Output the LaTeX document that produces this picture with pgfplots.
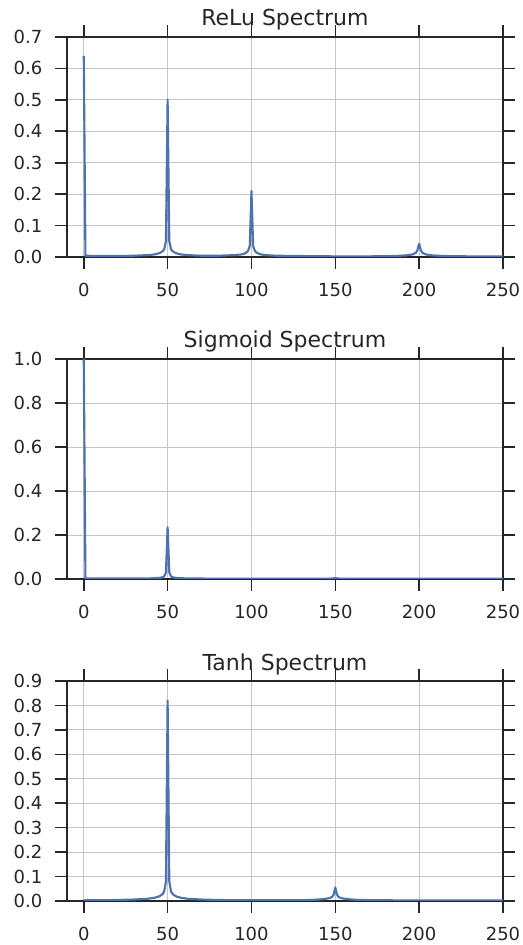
\documentclass[border=0pt]{standalone}
\usepackage{fontspec}
\setmainfont{DejaVu Sans}
\usepackage{pgfplots}
\pgfplotsset{compat=1.18}
\definecolor{sbblue}{HTML}{4C72B0}
\definecolor{txt}{HTML}{262626}
\pgfplotsset{
  spec/.style={
    scale only axis, width=327pt, height=165pt,
    xmin=-10, xmax=250, ymin=0,
    xtick={0,50,...,250},
    xtick pos=both, ytick pos=both,
    tick align=outside, major tick length=9pt,
    grid=major, grid style={gray!45, line width=0.6pt},
    axis line style={txt, line width=1.1pt},
    tick style={txt, line width=1.2pt},
    ticklabel style={font=\fontsize{13.5}{16}\selectfont, text=txt},
    /pgf/number format/assume math mode=true,
    yticklabel style={/pgf/number format/fixed, /pgf/number format/fixed zerofill,
      /pgf/number format/precision=1, xshift=-6pt},
    xticklabel style={yshift=-7pt},
    title style={font=\fontsize{16.5}{19}\selectfont, text=txt, anchor=base, yshift=2.25pt},
  },
  sline/.style={color=sbblue, line width=1.6pt, line join=round, no marks},
}
\begin{document}
\begin{tikzpicture}
\path[use as bounding box] (0,0) rectangle (391.5pt,708.75pt);

% ReLu
\begin{axis}[spec, at={(50.25pt,516pt)}, anchor=south west,
  ymax=0.7, ytick={0,0.1,...,0.7}, title={ReLu Spectrum}]
\addplot[sline] coordinates {
 (0,0.64) (1,0.004) (10,0.003) (20,0.003) (30,0.004) (38,0.006) (42,0.008)
 (45,0.012) (47,0.018) (48,0.025) (49,0.05) (50,0.50) (51,0.05) (52,0.025)
 (53,0.018) (55,0.012) (58,0.008) (62,0.006) (70,0.004) (80,0.004) (90,0.006)
 (94,0.008) (96,0.011) (97,0.014) (98,0.02) (99,0.035) (100,0.21) (101,0.035)
 (102,0.02) (103,0.014) (105,0.009) (108,0.006) (115,0.004) (130,0.003)
 (150,0.002) (170,0.002) (185,0.003) (192,0.005) (196,0.008) (198,0.013)
 (199,0.022) (200,0.042) (201,0.022) (202,0.013) (204,0.008) (208,0.005)
 (215,0.003) (230,0.002) (250,0.002)
};
\end{axis}

% Sigmoid
\begin{axis}[spec, at={(50.25pt,274.5pt)}, anchor=south west,
  ymax=1.0, ytick={0,0.2,...,1.0}, title={Sigmoid Spectrum}]
\addplot[sline] coordinates {
 (0,1.0) (1,0.003) (10,0.002) (20,0.002) (30,0.002) (40,0.003) (45,0.005)
 (47,0.008) (48,0.012) (49,0.03) (50,0.235) (51,0.03) (52,0.012) (53,0.008)
 (55,0.005) (60,0.003) (70,0.002) (100,0.001) (140,0.001) (148,0.002)
 (150,0.004) (152,0.002) (160,0.001) (200,0.001) (250,0.001)
};
\end{axis}

% Tanh
\begin{axis}[spec, at={(50.25pt,33pt)}, anchor=south west,
  ymax=0.9, ytick={0,0.1,...,0.9}, title={Tanh Spectrum}]
\addplot[sline] coordinates {
 (0,0.003) (10,0.003) (20,0.004) (30,0.006) (38,0.009) (42,0.013) (45,0.019)
 (47,0.028) (48,0.04) (49,0.08) (50,0.82) (51,0.08) (52,0.04) (53,0.028)
 (55,0.019) (58,0.013) (62,0.009) (70,0.006) (80,0.004) (100,0.003)
 (120,0.003) (135,0.004) (142,0.007) (146,0.011) (148,0.016) (149,0.026)
 (150,0.055) (151,0.026) (152,0.016) (154,0.011) (158,0.007) (165,0.004)
 (180,0.003) (200,0.002) (225,0.002) (250,0.002)
};
\end{axis}
\end{tikzpicture}
\end{document}
